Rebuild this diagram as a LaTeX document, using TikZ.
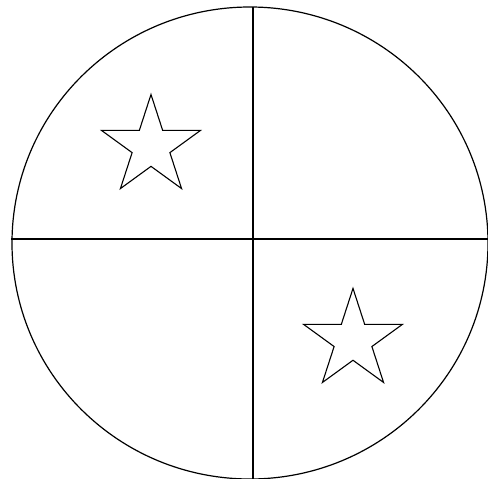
\documentclass[tikz,border=0pt]{standalone}
\usetikzlibrary{shapes.geometric}
\begin{document}
\begin{tikzpicture}[x=1pt, y=-1pt,
 starmark/.style={star,star points=5,star point ratio=2.618,draw,
  minimum size=104pt,inner sep=0pt,line width=1.1pt},
 axisline/.style={line width=1.4pt}]
\useasboundingbox (0,0) rectangle (488,479);
% disc and its quarters
\coordinate (c) at (250,243);
\draw[line width=1.2pt] (c) ellipse [x radius=238, y radius=236];
\coordinate (top) at (253,7);
\coordinate (bot) at (253,479);
\coordinate (lft) at (11,239);
\coordinate (rgt) at (488,239);
\draw[axisline] (top) -- (bot) (lft) -- (rgt);
% stars
\foreach \n/\x/\y in {a/151/146.5,b/353/340.4}
 \node[starmark] (star\n) at (\x,\y) {};
\end{tikzpicture}
\end{document}
